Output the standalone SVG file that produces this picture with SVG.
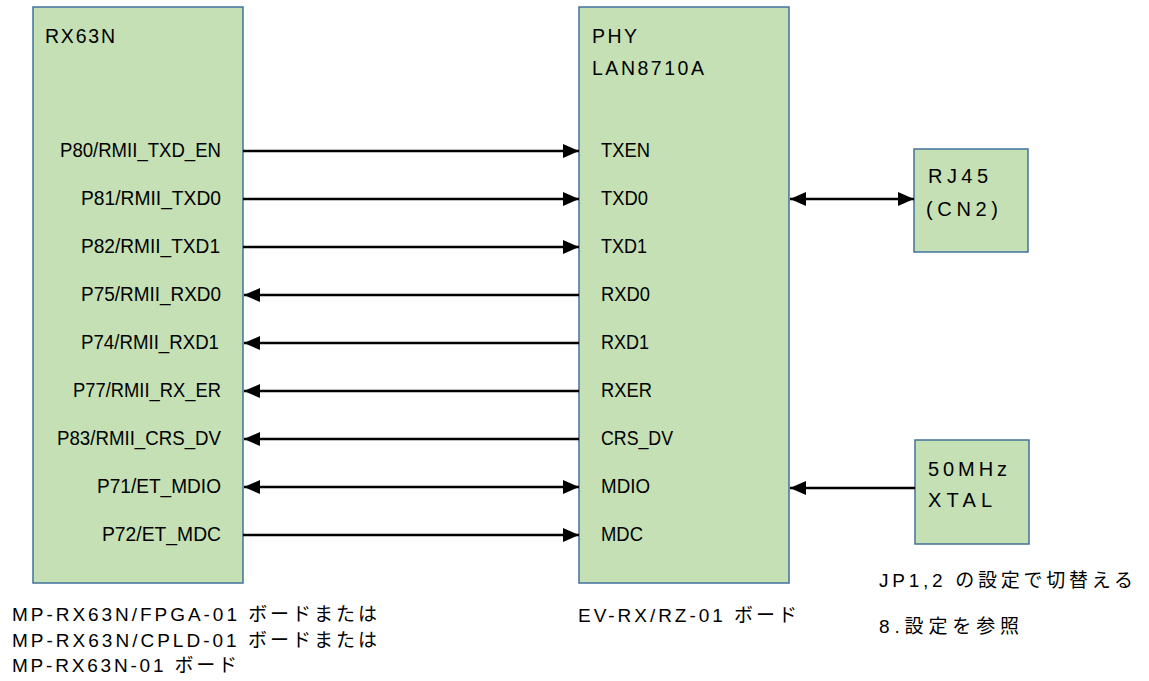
<svg xmlns="http://www.w3.org/2000/svg" width="1149" height="681" viewBox="0 0 1149 681">
<style>
.box{fill:#c5e0b4;stroke:#41719c;stroke-width:1.5}
text{font-family:"Liberation Sans","Noto Sans CJK JP",sans-serif;font-size:19px;fill:#000}
.lab{text-anchor:end;font-size:19.5px}
.pin{font-size:19.5px}
.ttl{font-size:19.5px}
.big{font-size:20px}
.wire{stroke:#000;stroke-width:2.5;fill:none}
</style>
<defs>
<marker id="ah" markerUnits="userSpaceOnUse" markerWidth="16" markerHeight="14" refX="16" refY="7" orient="auto-start-reverse">
<path d="M0,0 L16,7 L0,14 z" fill="#000"/>
</marker>
</defs>
<rect width="1149" height="681" fill="#fff"/>
<g id="rx63n">
<rect class="box" x="33" y="7" width="210" height="576"/>
<text class="ttl" x="45" y="43" textLength="70" lengthAdjust="spacing">RX63N</text>
<text class="lab" x="221" y="157" textLength="161" lengthAdjust="spacingAndGlyphs">P80/RMII_TXD_EN</text>
<text class="lab" x="221" y="205" textLength="140" lengthAdjust="spacingAndGlyphs">P81/RMII_TXD0</text>
<text class="lab" x="220" y="253" textLength="139" lengthAdjust="spacingAndGlyphs">P82/RMII_TXD1</text>
<text class="lab" x="221" y="301" textLength="140" lengthAdjust="spacingAndGlyphs">P75/RMII_RXD0</text>
<text class="lab" x="219" y="349" textLength="138" lengthAdjust="spacingAndGlyphs">P74/RMII_RXD1</text>
<text class="lab" x="221" y="397" textLength="148" lengthAdjust="spacingAndGlyphs">P77/RMII_RX_ER</text>
<text class="lab" x="221" y="445" textLength="164" lengthAdjust="spacingAndGlyphs">P83/RMII_CRS_DV</text>
<text class="lab" x="221" y="493" textLength="124" lengthAdjust="spacingAndGlyphs">P71/ET_MDIO</text>
<text class="lab" x="221" y="541" textLength="119" lengthAdjust="spacingAndGlyphs">P72/ET_MDC</text>
</g>
<g id="phy">
<rect class="box" x="579" y="7" width="210" height="576"/>
<text class="ttl" x="592" y="43" textLength="45" lengthAdjust="spacing">PHY</text>
<text class="ttl" x="592" y="75" textLength="112" lengthAdjust="spacing">LAN8710A</text>
<text class="pin" x="601" y="157" textLength="49" lengthAdjust="spacingAndGlyphs">TXEN</text>
<text class="pin" x="601" y="205" textLength="47" lengthAdjust="spacingAndGlyphs">TXD0</text>
<text class="pin" x="601" y="253" textLength="46" lengthAdjust="spacingAndGlyphs">TXD1</text>
<text class="pin" x="601" y="301" textLength="49" lengthAdjust="spacingAndGlyphs">RXD0</text>
<text class="pin" x="601" y="349" textLength="48" lengthAdjust="spacingAndGlyphs">RXD1</text>
<text class="pin" x="601" y="397" textLength="51" lengthAdjust="spacingAndGlyphs">RXER</text>
<text class="pin" x="601" y="445" textLength="72" lengthAdjust="spacingAndGlyphs">CRS_DV</text>
<text class="pin" x="601" y="493" textLength="49" lengthAdjust="spacingAndGlyphs">MDIO</text>
<text class="pin" x="601" y="541" textLength="42" lengthAdjust="spacingAndGlyphs">MDC</text>
</g>
<g id="rj45">
<rect class="box" x="914" y="149" width="114" height="103"/>
<text class="big" x="928" y="183" textLength="60" lengthAdjust="spacing">RJ45</text>
<text class="big" x="926" y="216" textLength="72" lengthAdjust="spacing">(CN2)</text>
</g>
<g id="xtal">
<rect class="box" x="915" y="440" width="114" height="104"/>
<text class="big" x="928" y="476" textLength="79" lengthAdjust="spacing">50MHz</text>
<text class="big" x="928" y="507" textLength="64" lengthAdjust="spacing">XTAL</text>
</g>
<g id="connectors">
<line class="wire" x1="243" y1="151" x2="579" y2="151" marker-end="url(#ah)"/>
<line class="wire" x1="243" y1="199" x2="579" y2="199" marker-end="url(#ah)"/>
<line class="wire" x1="243" y1="247" x2="579" y2="247" marker-end="url(#ah)"/>
<line class="wire" x1="579" y1="295" x2="244" y2="295" marker-end="url(#ah)"/>
<line class="wire" x1="579" y1="343" x2="244" y2="343" marker-end="url(#ah)"/>
<line class="wire" x1="579" y1="391" x2="244" y2="391" marker-end="url(#ah)"/>
<line class="wire" x1="579" y1="439" x2="244" y2="439" marker-end="url(#ah)"/>
<line class="wire" x1="244" y1="487" x2="579" y2="487" marker-start="url(#ah)" marker-end="url(#ah)"/>
<line class="wire" x1="243" y1="535" x2="579" y2="535" marker-end="url(#ah)"/>
<line class="wire" x1="790" y1="199" x2="914" y2="199" marker-start="url(#ah)" marker-end="url(#ah)"/>
<line class="wire" x1="915" y1="488" x2="790" y2="488" marker-end="url(#ah)"/>
</g>
<g id="notes">
<text x="12" y="621" textLength="365" lengthAdjust="spacing">MP-RX63N/FPGA-01 ボードまたは</text>
<text x="12" y="647" textLength="365" lengthAdjust="spacing">MP-RX63N/CPLD-01 ボードまたは</text>
<text x="12" y="672" textLength="225" lengthAdjust="spacing">MP-RX63N-01 ボード</text>
<text x="578" y="622" textLength="219" lengthAdjust="spacing">EV-RX/RZ-01 ボード</text>
<text x="879" y="587" textLength="254" lengthAdjust="spacing">JP1,2 の設定で切替える</text>
<text x="879" y="633" textLength="140" lengthAdjust="spacing">8.設定を参照</text>
</g>
</svg>
